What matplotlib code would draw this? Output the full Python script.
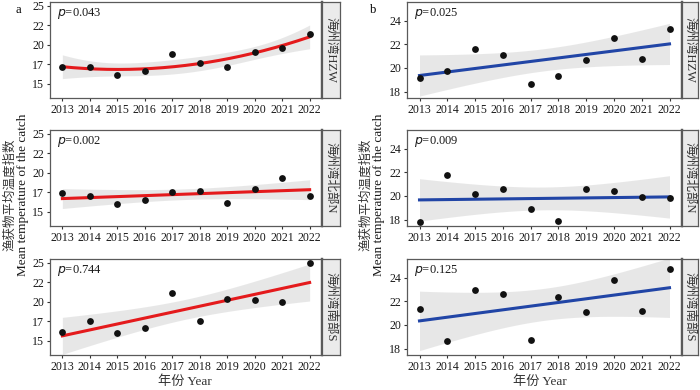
import numpy as np
import matplotlib
matplotlib.use("Agg")
import matplotlib.pyplot as plt
from matplotlib.patches import Rectangle

plt.rcParams['font.family'] = ['Liberation Serif', 'Noto Sans CJK SC']

years = np.arange(2013, 2023)
regions = ["海州湾HZW", "海州湾北部N", "海州湾南部S"]

# Panel a
a_hzw = [17.18, 17.22, 16.10, 16.67, 18.80, 17.70, 17.13, 19.06, 19.65, 21.40]
a_n = [17.45, 17.02, 16.08, 16.47, 17.62, 17.70, 16.16, 18.00, 19.30, 17.02]
a_s = [16.10, 17.60, 16.00, 16.70, 21.20, 17.50, 20.40, 20.20, 20.00, 25.00]
a_p = ["0.043", "0.002", "0.744"]
a_deg = [2, 1, 1]

# Panel b
b_hzw = [19.14, 19.76, 21.60, 21.10, 18.68, 19.33, 20.70, 22.58, 20.79, 23.32]
b_n = [17.83, 21.80, 20.20, 20.59, 18.90, 17.88, 20.60, 20.42, 19.88, 19.83]
b_s = [21.37, 18.62, 22.98, 22.64, 18.70, 22.36, 21.10, 23.83, 21.20, 24.73]
b_p = ["0.025", "0.009", "0.125"]
b_deg = [1, 1, 1]

a_yticks = [15, 17.5, 20, 22.5, 25]
a_yticklabels = ["15", "17", "20", "22", "25"]
b_yticks = [18, 20, 22, 24]
b_yticklabels = ["18", "20", "22", "24"]

T_CRIT = {8: 2.306, 7: 2.365}

W, H = 700, 390
fig = plt.figure(figsize=(7, 3.9), dpi=100)


def fit_band(x, y, deg):
    x = np.asarray(x, float)
    y = np.asarray(y, float)
    xc = x - x.mean()
    X = np.vander(xc, deg + 1)
    beta, *_ = np.linalg.lstsq(X, y, rcond=None)
    resid = y - X @ beta
    df = len(y) - (deg + 1)
    s2 = (resid ** 2).sum() / df
    xx = np.linspace(x.min(), x.max(), 200)
    Xg = np.vander(xx - x.mean(), deg + 1)
    XtXi = np.linalg.inv(X.T @ X)
    yhat = Xg @ beta
    se = np.sqrt(s2 * np.einsum('ij,jk,ik->i', Xg, XtXi, Xg))
    t = T_CRIT[df]
    return xx, yhat, yhat - t * se, yhat + t * se


rows = [(2, 98), (130, 226), (259, 355)]
cols = [dict(x0=50, x1=322, s1=340, data=[a_hzw, a_n, a_s], p=a_p, deg=a_deg,
             color='#e41a1c', ylim=(13.2, 25.5), yt=a_yticks, ytl=a_yticklabels,
             letter='a', lx=18, ylx=(10, 23), xlc=185),
        dict(x0=407, x1=682, s1=698, data=[b_hzw, b_n, b_s], p=b_p, deg=b_deg,
             color='#2145a6', ylim=(17.45, 25.6), yt=b_yticks, ytl=b_yticklabels,
             letter='b', lx=373, ylx=(366, 379), xlc=540)]

frame_col = '#5a5a5a'
for c in cols:
    for r, (top, bot) in enumerate(rows):
        ax = fig.add_axes([c['x0'] / W, 1 - bot / H, (c['x1'] - c['x0']) / W, (bot - top) / H])
        y = c['data'][r]
        xx, yh, lo, hi = fit_band(years, y, c['deg'][r])
        ax.fill_between(xx, lo, hi, color='#bdbdbd', alpha=0.35, lw=0, zorder=1)
        ax.plot(xx, yh, color=c['color'], lw=2.2, zorder=2)
        ax.scatter(years, y, s=24, color='#111111', zorder=3, lw=0)
        ax.set_xlim(2012.55, 2022.45)
        ax.set_ylim(*c['ylim'])
        ax.set_xticks(years)
        ax.set_xticklabels([str(v) for v in years], fontsize=8.6)
        ax.set_yticks(c['yt'])
        ax.set_yticklabels(c['ytl'], fontsize=8.6)
        ax.tick_params(length=2.5, width=0.8, color='#333333', pad=1.5, labelcolor='#1a1a1a')
        for sp in ax.spines.values():
            sp.set_color(frame_col)
            sp.set_linewidth(0.9)
        ax.spines['right'].set_linewidth(1.6)
        ax.text(0.025, 0.96, r'$p$=' + c['p'][r], transform=ax.transAxes, ha='left', va='top',
                fontsize=9, color='#1a1a1a')
        # strip
        sax = fig.add_axes([c['x1'] / W, 1 - bot / H, (c['s1'] - c['x1']) / W, (bot - top) / H])
        sax.set_xticks([]); sax.set_yticks([])
        sax.set_facecolor('#ebebeb')
        for sp in sax.spines.values():
            sp.set_color(frame_col)
            sp.set_linewidth(0.9)
        sax.spines['left'].set_linewidth(1.6)
        sax.text(0.5, 0.5, regions[r], rotation=-90, ha='center', va='center',
                 fontsize=9, color='#333333', transform=sax.transAxes)
    fig.text(c['lx'] / W, 1 - 10 / H, c['letter'], ha='center', va='center', fontsize=9)
    fig.text(c['ylx'][0] / W, 1 - 195 / H, '渔获物平均温度指数', rotation=90, ha='center', va='center',
             fontsize=9, color='#333333')
    fig.text(c['ylx'][1] / W, 1 - 195 / H, 'Mean temperature of the catch', rotation=90,
             ha='center', va='center', fontsize=9.5, color='#1a1a1a')
    fig.text(c['xlc'] / W, 1 - 382 / H, '年份 Year', ha='center', va='center', fontsize=9.5,
             color='#333333')

fig.savefig('out.png', dpi=100)
